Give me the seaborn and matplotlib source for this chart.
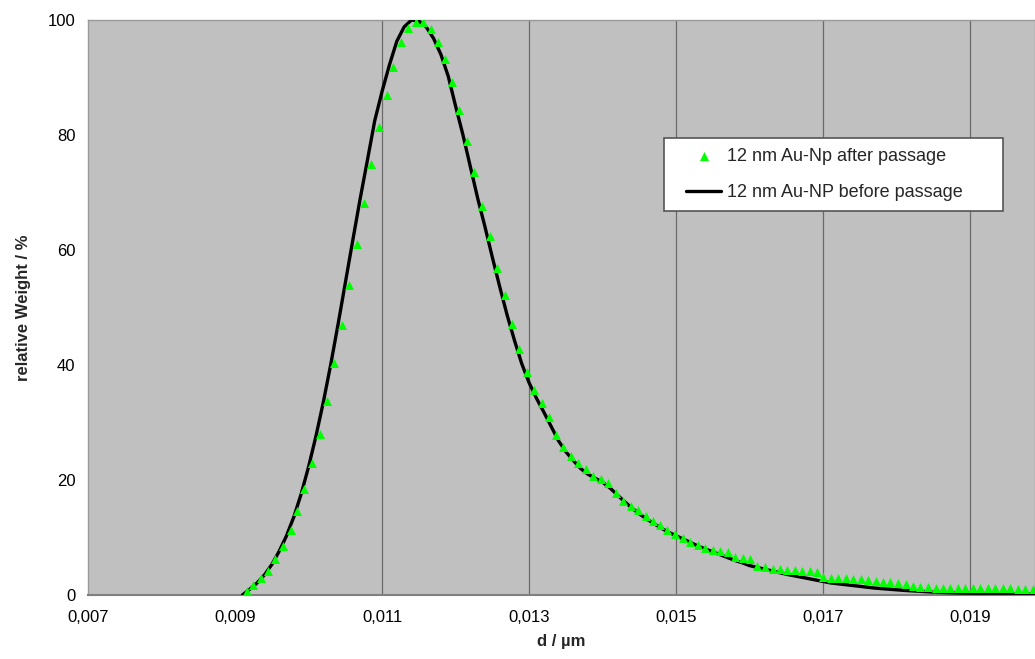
import numpy as np
import pandas as pd
import matplotlib
matplotlib.use("Agg")
import matplotlib.pyplot as plt
import matplotlib.patches as mpatches
import seaborn as sns

# 12 nm Au-Np after passage (green triangles)
after_d = [
    0.009158, 0.009247, 0.009352, 0.009451, 0.009542, 0.009655, 0.009756, 0.009838,
    0.009941, 0.010050, 0.010158, 0.010256, 0.010349, 0.010453, 0.010553, 0.010653,
    0.010753, 0.010848, 0.010961, 0.011061, 0.011151, 0.011252, 0.011355, 0.011455,
    0.011559, 0.011659, 0.011755, 0.011854, 0.011953, 0.012048, 0.012156, 0.012252,
    0.012361, 0.012466, 0.012565, 0.012670, 0.012761, 0.012864, 0.012965, 0.013067,
    0.013169, 0.013268, 0.013363, 0.013462, 0.013567, 0.013666, 0.013767, 0.013870,
    0.013975, 0.014074, 0.014175, 0.014278, 0.014379, 0.014482, 0.014583, 0.014678,
    0.014777, 0.014876, 0.014981, 0.015086, 0.015185, 0.015290, 0.015389, 0.015494,
    0.015593, 0.015698, 0.015797, 0.015902, 0.016001, 0.016105, 0.016205, 0.016310,
    0.016409, 0.016513, 0.016613, 0.016717, 0.016816, 0.016921, 0.016997, 0.017102,
    0.017201, 0.017306, 0.017405, 0.017510, 0.017609, 0.017714, 0.017813, 0.017913,
    0.018017, 0.018121, 0.018221, 0.018321, 0.018425, 0.018529, 0.018627, 0.018726,
    0.018830, 0.018933, 0.019031, 0.019130, 0.019235, 0.019334, 0.019438, 0.019542,
    0.019646, 0.019745, 0.019850,
]
after_w = [
    0.7, 1.7, 2.9, 4.2, 6.2, 8.6, 11.3, 14.6,
    18.4, 23.0, 28.0, 33.8, 40.3, 47.0, 54.0, 61.0,
    68.1, 74.9, 81.4, 87.0, 91.8, 96.1, 98.6, 99.7,
    99.7, 98.4, 96.2, 93.2, 89.3, 84.3, 78.9, 73.5,
    67.7, 62.4, 56.8, 52.1, 47.1, 42.8, 38.8, 35.6,
    33.4, 31.0, 27.8, 25.7, 24.2, 22.9, 21.9, 20.7,
    20.1, 19.4, 17.7, 16.4, 15.5, 14.7, 13.8, 12.9,
    12.2, 11.3, 10.6, 9.9, 9.3, 8.7, 8.1, 7.8,
    7.7, 7.5, 6.6, 6.4, 6.3, 5.0, 4.8, 4.6,
    4.5, 4.3, 4.3, 4.2, 4.2, 4.05, 3.1, 2.9,
    2.9, 2.9, 2.8, 2.7, 2.6, 2.4, 2.3, 2.2,
    2.1, 2.0, 1.6, 1.4, 1.4, 1.3, 1.3, 1.3,
    1.3, 1.3, 1.25, 1.2, 1.2, 1.2, 1.15, 1.15,
    1.1, 1.05, 1.05,
]

# 12 nm Au-NP before passage (black line)
before_d = [
    0.0091, 0.0092, 0.0093, 0.0094, 0.0095, 0.0096, 0.0097, 0.0098, 0.0099,
    0.0100, 0.0101, 0.0102, 0.0103, 0.0104, 0.0105, 0.0106, 0.0107, 0.0108, 0.0109,
    0.0110, 0.0111, 0.0112, 0.0113, 0.0114, 0.0115, 0.0116, 0.0117, 0.0118, 0.0119,
    0.0120, 0.0121, 0.0122, 0.0123, 0.0124, 0.0125, 0.0126, 0.0127, 0.0128, 0.0129,
    0.0130, 0.0131, 0.0132, 0.0133, 0.0134, 0.0135, 0.0136, 0.0137, 0.0138, 0.0139,
    0.0140, 0.0141, 0.0142, 0.0143, 0.0144, 0.0145, 0.0146, 0.0147, 0.0148, 0.0149,
    0.0150, 0.0151, 0.0152, 0.0153, 0.0154, 0.0155, 0.0156, 0.0157, 0.0158, 0.0159,
    0.0160, 0.0161, 0.0162, 0.0163, 0.0164, 0.0165, 0.0166, 0.0167, 0.0168, 0.0169,
    0.0170, 0.0171, 0.0173, 0.0175, 0.0177, 0.0179, 0.0181, 0.0183, 0.0185, 0.0187,
    0.0189, 0.0191, 0.0193, 0.0195, 0.0197, 0.0199,
]
before_w = [
    0.0, 1.0, 2.1, 3.5, 5.3, 7.6, 10.3, 13.6, 17.6,
    22.3, 27.6, 33.5, 40.0, 47.0, 54.3, 61.6, 68.8, 75.6, 82.5,
    87.6, 92.2, 96.3, 98.8, 100.0, 99.8, 98.8, 96.8, 94.0, 90.2,
    85.0, 80.0, 74.5, 69.0, 64.0, 58.7, 53.6, 48.7, 44.3, 40.2,
    36.9, 34.2, 31.8, 29.3, 26.8, 24.9, 23.4, 22.0, 21.0, 20.3,
    19.6, 18.6, 17.4, 16.2, 15.1, 14.1, 13.2, 12.4, 11.6, 10.9,
    10.3, 9.7, 9.1, 8.5, 8.0, 7.5, 7.0, 6.5, 6.0, 5.6,
    5.1, 4.8, 4.5, 4.2, 3.9, 3.6, 3.35, 3.1, 2.85, 2.6,
    2.35, 2.1, 1.8, 1.5, 1.2, 1.0, 0.8, 0.65, 0.5, 0.4,
    0.33, 0.28, 0.25, 0.22, 0.2, 0.18,
]

x_ticks = [0.007, 0.009, 0.011, 0.013, 0.015, 0.017, 0.019]
x_grid = [0.011, 0.013, 0.015, 0.017, 0.019]
y_ticks = [0, 20, 40, 60, 80, 100]

after = pd.DataFrame({"d": after_d, "w": after_w})
before = pd.DataFrame({"d": before_d, "w": before_w})

sns.set_style("white")
plt.rcParams["font.family"] = ["Liberation Sans", "DejaVu Sans"]

W, H = 1035, 659
fig = plt.figure(figsize=(W / 100, H / 100), dpi=100)
ax = fig.add_axes([88 / W, 1 - 595 / H, (W - 88) / W, 575 / H])
ax.set_facecolor("#c0c0c0")

for gx in x_grid:
    ax.axvline(gx, color="#6a6a6a", lw=0.9, zorder=1)

sns.lineplot(data=before, x="d", y="w", ax=ax, color="black", lw=2.4,
             sort=False, zorder=3, label="12 nm Au-NP before passage")
sns.scatterplot(data=after, x="d", y="w", ax=ax, marker="^", color="#00ff00",
                s=42, linewidth=0, zorder=4, label="12 nm Au-Np after passage")

ax.set_xlim(0.007, 0.01988)
ax.set_ylim(0, 100)
ax.set_xticks(x_ticks)
ax.set_xticklabels([f"{v:.3f}".replace(".", ",") for v in x_ticks])
ax.set_yticks(y_ticks)
ax.tick_params(axis="both", which="major", direction="out", length=5, width=1,
               color="#808080", labelsize=12, labelcolor="black", pad=6)
ax.tick_params(axis="y", pad=4)

for side in ["top", "left", "right"]:
    ax.spines[side].set_color("#9a9a9a")
    ax.spines[side].set_linewidth(1)
ax.spines["bottom"].set_color("#808080")
ax.spines["bottom"].set_linewidth(1.5)

ax.set_xlabel("d / µm", fontsize=12, fontweight="bold", labelpad=6)
ax.set_ylabel("relative Weight / %", fontsize=12, fontweight="bold", labelpad=12)

# legend box (white, framed) with a frameless legend placed inside it
box = mpatches.Rectangle((664 / W, 1 - 211 / H), 339 / W, 73 / H,
                         transform=fig.transFigure, facecolor="white",
                         edgecolor="#555555", lw=1.2, zorder=8, clip_on=False)
ax.add_patch(box)

handles, labels = ax.get_legend_handles_labels()
order = [labels.index("12 nm Au-Np after passage"), labels.index("12 nm Au-NP before passage")]
leg = ax.legend([handles[i] for i in order], [labels[i] for i in order],
                loc="upper left", bbox_to_anchor=(686 / W, 1 - 148 / H),
                bbox_transform=fig.transFigure, fontsize=13, frameon=False,
                borderpad=0, labelspacing=1.05, handlelength=1.95,
                handletextpad=0.3, borderaxespad=0)
leg.set_zorder(9)

fig.savefig("out.png", dpi=100)
